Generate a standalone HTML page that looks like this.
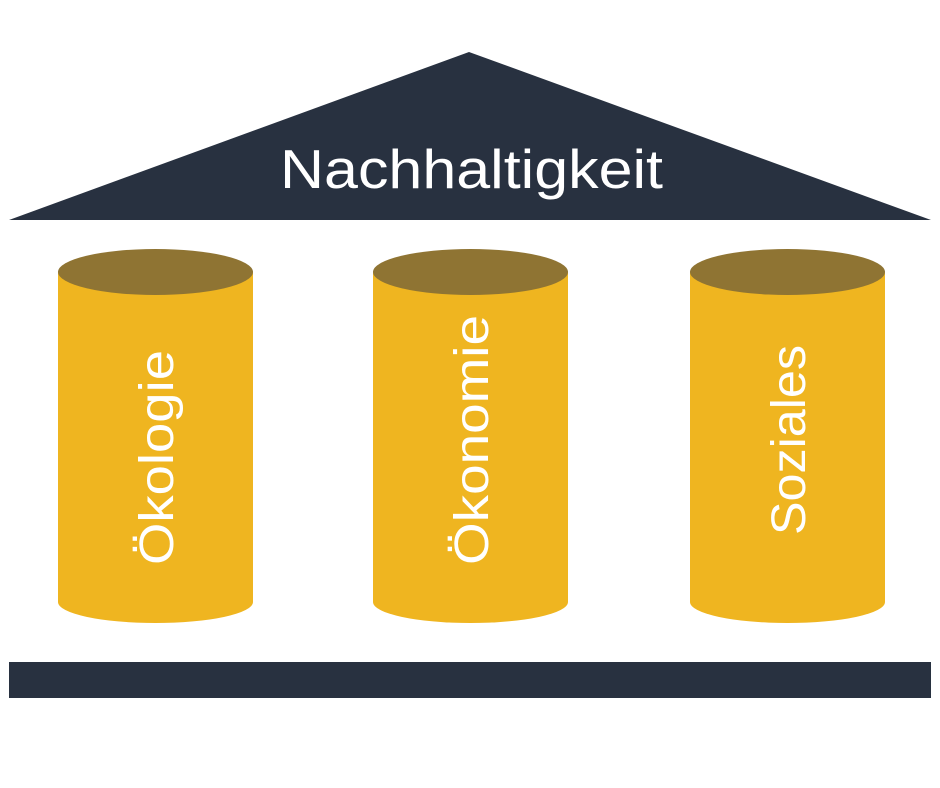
<!DOCTYPE html>
<html><head><meta charset="utf-8"><style>html,body{margin:0;padding:0;background:#fff}svg{display:block}</style></head>
<body>
<svg width="940" height="788" viewBox="0 0 940 788" xmlns="http://www.w3.org/2000/svg">
<polygon points="9,220 931,220 469,52" fill="#283140"/>
<text x="280" y="188" font-family="Liberation Sans, sans-serif" font-size="55" fill="#fff" textLength="383" lengthAdjust="spacingAndGlyphs">Nachhaltigkeit</text>
<g>
<path d="M58,272 L58,602 A97.5,21 0 0 0 253,602 L253,272 Z" fill="#efb520"/>
<ellipse cx="155.5" cy="272" rx="97.5" ry="23" fill="#8f7433"/>
<path d="M373,272 L373,602 A97.5,21 0 0 0 568,602 L568,272 Z" fill="#efb520"/>
<ellipse cx="470.5" cy="272" rx="97.5" ry="23" fill="#8f7433"/>
<path d="M690,272 L690,602 A97.5,21 0 0 0 885,602 L885,272 Z" fill="#efb520"/>
<ellipse cx="787.5" cy="272" rx="97.5" ry="23" fill="#8f7433"/>
</g>
<g font-family="Liberation Sans, sans-serif" font-size="48" fill="#fff">
<text transform="translate(173,565) rotate(-90)" textLength="215" lengthAdjust="spacingAndGlyphs">Ökologie</text>
<text transform="translate(488,565) rotate(-90)" textLength="250" lengthAdjust="spacingAndGlyphs">Ökonomie</text>
<text transform="translate(805,535) rotate(-90)" textLength="190" lengthAdjust="spacingAndGlyphs">Soziales</text>
</g>
<rect x="9" y="662" width="922" height="36" fill="#283140"/>
</svg>
</body></html>
